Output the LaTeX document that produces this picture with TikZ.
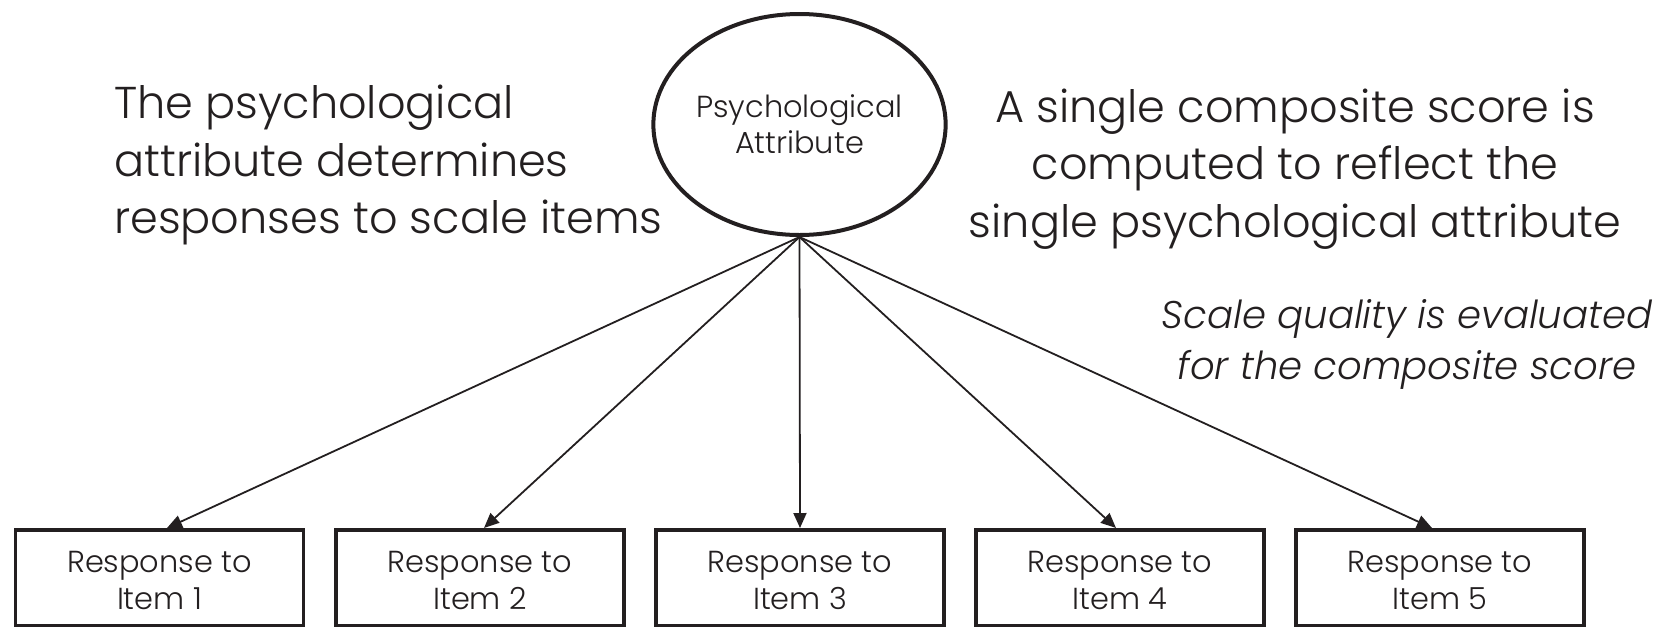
\documentclass[tikz,border=0pt]{standalone}
\usepackage{fontspec}
\setmainfont{Poppins}[UprightFont=* Light, ItalicFont=* Light Italic]
\usetikzlibrary{shapes.geometric,arrows.meta,calc}
\definecolor{ink}{HTML}{231F20}
\begin{document}
\begin{tikzpicture}[x=1pt,y=-1pt,
  latent/.style={ellipse,draw=ink,line width=4pt,minimum width=281pt,minimum height=221pt,
    inner sep=0pt,align=center,text=ink,font=\fontsize{30.4}{36}\selectfont},
  itembox/.style={rectangle,draw=ink,line width=3.5pt,minimum width=288pt,minimum height=95.5pt,
    inner sep=0pt},
  itemlabel/.style={inner sep=0pt,align=center,text=ink,font=\fontsize{30.4}{37}\selectfont},
  load/.style={draw=ink,line width=1.8pt,-{Triangle[length=15pt,width=13pt]}},
  bigtext/.style={text=ink,inner sep=0pt,font=\fontsize{44.6}{57.5}\selectfont},
  notetext/.style={text=ink,inner sep=0pt,align=center,font=\fontsize{38.6}{51}\selectfont\itshape}]
\useasboundingbox (0,0) rectangle (1667,627);

% latent attribute
\node[latent] (pa) at (799.5,124.5) {Psychological\\Attribute};

% observed item responses
\foreach \i/\x in {1/159.5,2/480,3/800,4/1120,5/1440}{
  \node[itembox] (b\i) at (\x,577.5) {};
  \node[itemlabel] (t\i) at ($(b\i.center)+(0,2.5)$) {Response to\\Item \i};
}

% loadings from the attribute to each item
\draw[load] (pa.south) -- ($(b1.north)+(7.5,0)$);
\draw[load] (pa.south) -- ($(b2.north)+(4,0)$);
\draw[load] (pa.south) -- (b3.north);
\draw[load] (pa.south) -- ($(b4.north)+(-4,0)$);
\draw[load] (pa.south) -- ($(b5.north)+(-8,0)$);

% explanatory text
\node[bigtext,align=left,anchor=west] (lt) at (114,165)
  {The psychological\\attribute determines\\responses to scale items};
\node[bigtext,align=center] (rt) at (1295,169)
  {A single composite score is\\computed to reflect the\\single psychological attribute};
\node[notetext] (nt) at (1407,344)
  {Scale quality is evaluated\\for the composite score};
\end{tikzpicture}
\end{document}
